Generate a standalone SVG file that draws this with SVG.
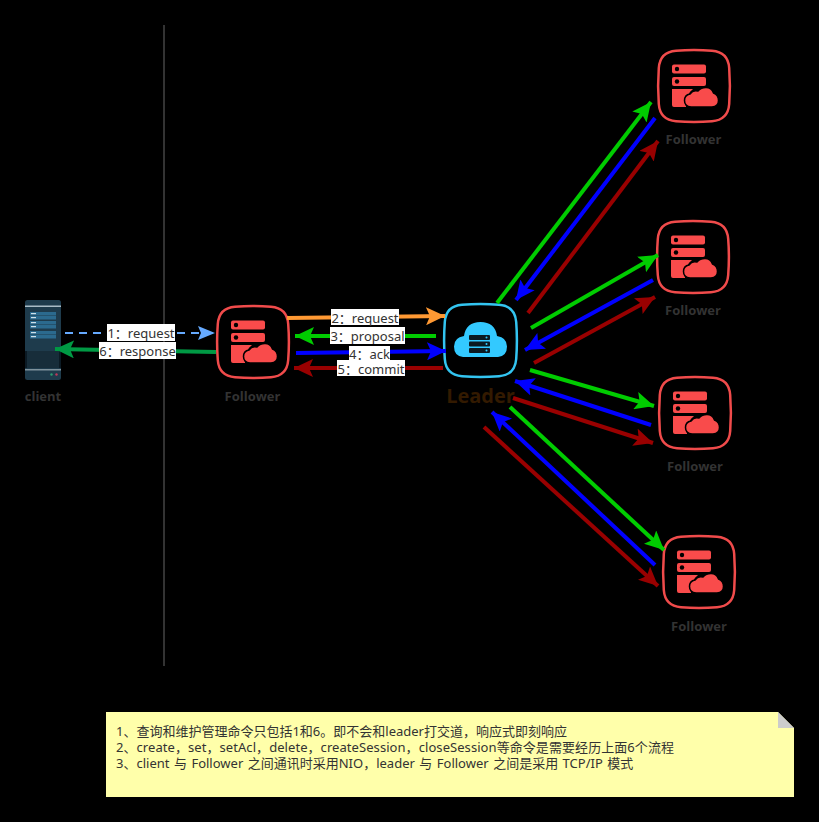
<svg xmlns="http://www.w3.org/2000/svg" width="819" height="822" viewBox="0 0 819 822">
<style>
.nl{font-family:"Open Sans","Liberation Sans",sans-serif;font-weight:700;font-size:13px;fill:#333;text-anchor:middle}
.cl{font-family:"Noto Sans","Noto Sans CJK SC",sans-serif;font-size:13px;fill:#333;text-anchor:middle}
.bg{fill:#fff}
.c{fill:none;stroke-width:4}
.note{font-family:"Noto Sans","Noto Sans CJK SC",sans-serif;font-size:13px;fill:#333}
</style>
<defs>
<marker id="ao" markerUnits="userSpaceOnUse" markerWidth="20" markerHeight="18" refX="19" refY="9" orient="auto"><path d="M0 0L19 9L0 18L4 9Z" fill="#f93"/></marker>
<marker id="ag" markerUnits="userSpaceOnUse" markerWidth="20" markerHeight="18" refX="19" refY="9" orient="auto"><path d="M0 0L19 9L0 18L4 9Z" fill="#0c0"/></marker>
<marker id="ab" markerUnits="userSpaceOnUse" markerWidth="20" markerHeight="18" refX="19" refY="9" orient="auto"><path d="M0 0L19 9L0 18L4 9Z" fill="#00f"/></marker>
<marker id="ar" markerUnits="userSpaceOnUse" markerWidth="20" markerHeight="18" refX="19" refY="9" orient="auto"><path d="M0 0L19 9L0 18L4 9Z" fill="#900"/></marker>
<marker id="as" markerUnits="userSpaceOnUse" markerWidth="20" markerHeight="18" refX="19" refY="9" orient="auto"><path d="M0 0L19 9L0 18L4 9Z" fill="#094"/></marker>
<marker id="al" markerUnits="userSpaceOnUse" markerWidth="18" markerHeight="14" refX="17" refY="7" orient="auto"><path d="M0 0L17 7L0 14L3 7Z" fill="#6af"/></marker>
<g id="fol">
<path d="M18 0.800Q36 -0.600 54 0.800Q70 2 71.200 18Q72.600 36 71.200 54Q70 70 54 71.200Q36 72.600 18 71.200Q2 70 0.800 54Q-0.600 36 0.800 18Q2 2 18 0.800Z" fill="#000" stroke="#f04b4b" stroke-width="2.500"/>
<rect x="14" y="14.500" width="34" height="9" rx="2" fill="#f94b4b"/>
<rect x="14" y="27" width="34" height="9" rx="2" fill="#f94b4b"/>
<circle cx="19" cy="19" r="2.200" fill="#000"/><circle cx="19" cy="31.500" r="2.200" fill="#000"/>
<path d="M14 39H35Q28 44 28 57H16Q14 57 14 55Z" fill="#f94b4b"/>
<path d="M33 57Q26.500 56.500 26.500 50.500Q26.500 45 32 44Q35 39.500 40 41Q43 37.500 48 37.500Q53.500 37.500 55.500 43Q60.500 45 60.500 50.500Q60.500 56.500 54 57Z" fill="#f94b4b" stroke="#000" stroke-width="1.500"/>
</g>
</defs>
<rect width="819" height="822" fill="#000"/>
<path d="M164 25V666" stroke="#333" stroke-width="2" fill="none"/>
<g id="client">
<rect x="25" y="300" width="36" height="80" rx="2.500" fill="#1e3b4c"/>
<rect x="25" y="305.500" width="36" height="1.500" fill="#a9bcc6"/>
<g fill="#2b6a8e"><rect x="30" y="312" width="26" height="3.500"/><rect x="30" y="316" width="26" height="3.500"/><rect x="30" y="321" width="26" height="3.500"/><rect x="30" y="325" width="26" height="3.500"/><rect x="30" y="331" width="26" height="3.500"/><rect x="30" y="335" width="26" height="3.500"/></g>
<g fill="#cfe0e8"><rect x="31" y="313" width="5" height="1.200"/><rect x="31" y="317" width="5" height="1.200"/><rect x="31" y="322" width="5" height="1.200"/><rect x="31" y="326" width="5" height="1.200"/><rect x="31" y="332" width="5" height="1.200"/><rect x="31" y="336" width="5" height="1.200"/></g>
<rect x="25" y="351" width="36" height="17" fill="#0b1a24"/>
<path d="M28 351V368M30 351V368M32 351V368M34 351V368M36 351V368M38 351V368M40 351V368M42 351V368M44 351V368M46 351V368M48 351V368M50 351V368M52 351V368M54 351V368M56 351V368M58 351V368" stroke="#2c4c5e" stroke-width="0.800"/>
<rect x="25" y="369" width="36" height="1.500" fill="#7f929c"/>
<circle cx="51.500" cy="374.500" r="1.200" fill="#2a9d6f"/><circle cx="56.500" cy="374.500" r="1.200" fill="#c0395a"/>
<text class="nl" x="43" y="401">client</text>
</g>
<g id="follower-main"><use href="#fol" x="217" y="306"/><text class="nl" x="252.500" y="401">Follower</text></g>
<g id="follower-1"><use href="#fol" x="658" y="50"/><text class="nl" x="693.500" y="144">Follower</text></g>
<g id="follower-2"><use href="#fol" x="657" y="221"/><text class="nl" x="693" y="315">Follower</text></g>
<g id="follower-3"><use href="#fol" x="659" y="377"/><text class="nl" x="695" y="471">Follower</text></g>
<g id="follower-4"><use href="#fol" x="663" y="536"/><text class="nl" x="699" y="631">Follower</text></g>
<g id="leader">
<path d="M462 304.800Q480.500 303.400 499 304.800Q515 306 516.200 322Q517.600 340.500 516.200 359Q515 375 499 376.200Q480.500 377.600 462 376.200Q446 375 444.800 359Q443.400 340.500 444.800 322Q446 306 462 304.800Z" fill="#000" stroke="#33c4f0" stroke-width="2.500"/>
<path d="M463 357Q454 356 454 346.500Q454 337.500 464 336Q466 322 480.500 322Q495 322 497 336Q507 337.500 507 346.500Q507 356 498 357Z" fill="#33c9ff"/>
<g fill="#0b1a22"><rect x="469" y="335" width="21" height="5" rx="1"/><rect x="469" y="341.500" width="21" height="5" rx="1"/><rect x="469" y="348" width="21" height="5" rx="1"/></g>
<g fill="#33c9ff"><circle cx="486.500" cy="337.500" r="1"/><circle cx="486.500" cy="344" r="1"/><circle cx="486.500" cy="350.500" r="1"/></g>
<text x="480.500" y="403" style="font-family:'Open Sans','Liberation Sans',sans-serif;font-weight:700;font-size:20px;fill:#331a00;text-anchor:middle">Leader</text>
</g>
<g id="connectors">
<path class="c" stroke="#0c0" marker-end="url(#ag)" d="M497 303L651 102"/>
<path class="c" stroke="#00f" marker-end="url(#ab)" d="M655 118L516 300"/>
<path class="c" stroke="#900" marker-end="url(#ar)" d="M528 313L658 141"/>
<path class="c" stroke="#0c0" marker-end="url(#ag)" d="M531 328L658 255"/>
<path class="c" stroke="#00f" marker-end="url(#ab)" d="M653 280L525 350"/>
<path class="c" stroke="#900" marker-end="url(#ar)" d="M534 363L655 297"/>
<path class="c" stroke="#0c0" marker-end="url(#ag)" d="M530 370L654 406"/>
<path class="c" stroke="#00f" marker-end="url(#ab)" d="M651 425L515 381"/>
<path class="c" stroke="#900" marker-end="url(#ar)" d="M513 398L653 443"/>
<path class="c" stroke="#0c0" marker-end="url(#ag)" d="M510 407L664 550"/>
<path class="c" stroke="#00f" marker-end="url(#ab)" d="M655 565L492 412"/>
<path class="c" stroke="#900" marker-end="url(#ar)" d="M484 427L658 586"/>
<path fill="none" stroke="#6af" stroke-width="2" stroke-dasharray="8 6" marker-end="url(#al)" d="M65 333L215 333"/>
<path class="c" stroke="#094" marker-end="url(#as)" d="M216 352L55 349"/>
<path class="c" stroke="#f93" marker-end="url(#ao)" d="M287 318L445 316"/>
<path class="c" stroke="#0c0" marker-end="url(#ag)" d="M436 336L295 336"/>
<path class="c" stroke="#00f" marker-end="url(#ab)" d="M296 353L446 351"/>
<path class="c" stroke="#900" marker-end="url(#ar)" d="M443 368L294 368"/>
<rect class="bg" x="107" y="324" width="68" height="17"/><text class="cl" x="141" y="338">1：request</text>
<rect class="bg" x="99" y="342" width="77" height="17"/><text class="cl" x="137.500" y="356">6：response</text>
<rect class="bg" x="331" y="309" width="68" height="16"/><text class="cl" x="365" y="323">2：request</text>
<rect class="bg" x="330" y="327" width="75" height="17"/><text class="cl" x="367.500" y="341">3：proposal</text>
<rect class="bg" x="349" y="346" width="41" height="16"/><text class="cl" x="369.500" y="359">4：ack</text>
<rect class="bg" x="337" y="360" width="68" height="16"/><text class="cl" x="371" y="374">5：commit</text>
</g>
<g id="note">
<path d="M106 712H778L794 728V797H106Z" fill="#ffa"/>
<path d="M778 712L794 728H778Z" fill="#ccc"/>
<text class="note" x="116" y="736">1、查询和维护管理命令只包括1和6。即不会和leader打交道，响应式即刻响应</text>
<text class="note" x="116" y="752" textLength="558">2、create，set，setAcl，delete，createSession，closeSession等命令是需要经历上面6个流程</text>
<text class="note" x="116" y="768" word-spacing="1.100">3、client 与 Follower 之间通讯时采用NIO，leader 与 Follower 之间是采用 TCP/IP 模式</text>
</g>
</svg>
